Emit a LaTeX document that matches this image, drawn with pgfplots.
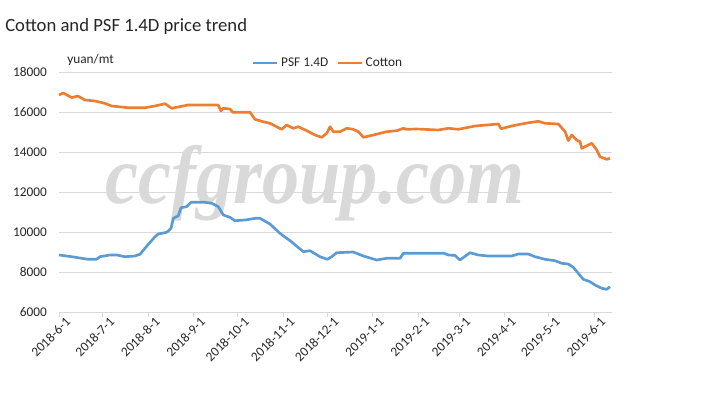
\documentclass[border=0pt]{standalone}
\usepackage{fontspec}
\setmainfont{Carlito}
\newfontfamily\wmfont{Liberation Serif}
\usepackage{pgfplots}
\pgfplotsset{compat=1.18}
\definecolor{psf}{HTML}{5B9BD5}
\definecolor{cot}{HTML}{ED7D31}
\definecolor{gridc}{HTML}{D9D9D9}
\definecolor{wm}{HTML}{D9D9D9}
\definecolor{txt}{HTML}{262626}
\begin{document}
\begin{tikzpicture}
\path[use as bounding box] (-44.25pt,-63.75pt) rectangle (492.75pt,234pt);
\node[anchor=base, font=\wmfont\fontsize{62}{62}\selectfont\bfseries\itshape, text=wm, inner sep=0pt] at (192pt,81.75pt) {\scalebox{0.9}[1]{ccfgroup.com}};
\begin{axis}[
  at={(0,0)}, anchor=south west,
  scale only axis, width=414.75pt, height=180pt,
  xmin=0, xmax=377.2, ymin=6000, ymax=18000,
  ytick={6000,8000,...,18000},
  scaled y ticks=false,
  xtick={0,30,61,92,122,153,183,214,245,273,304,334,365},
  xticklabels={2018-6-1,2018-7-1,2018-8-1,2018-9-1,2018-10-1,2018-11-1,2018-12-1,2019-1-1,2019-2-1,2019-3-1,2019-4-1,2019-5-1,2019-6-1},
  axis x line*=bottom, axis y line*=left,
  x axis line style={gridc, line width=0.75pt, -},
  y axis line style={draw=none},
  ymajorgrids, grid style={gridc, line width=0.75pt},
  ytick style={draw=none},
  xtick style={gridc, line width=0.75pt},
  xtick align=outside, major tick length=3.5pt,
  /pgf/number format/1000 sep={},
  /pgf/number format/assume math mode=true,
  yticklabel style={font=\fontsize{10}{12}\selectfont, text=txt},
  yticklabel shift=5.5pt,
  xticklabel style={font=\fontsize{10}{12}\selectfont, text=txt, rotate=45, anchor=east, xshift=6.5pt, yshift=-6.5pt},
  legend style={at={(0.487,1)}, anchor=center, yshift=6.75pt, draw=none, fill=none, font=\fontsize{10}{12}\selectfont, text=txt, legend columns=2, inner sep=0pt},
  legend image code/.code={\draw[#1] (0pt,0pt) -- (18pt,0pt);},
  legend cell align=left,
  /tikz/every even column/.append style={column sep=4pt},
  clip=false,
]
\addplot[psf, line width=2pt, line join=round] coordinates {
(0,8850)(8.7,8765)(19.9,8635)(25.6,8635)(27.9,8765)(34.8,8850)(39.4,8850)(45,8765)(51.8,8800)(55.2,8885)
(60.9,9385)(65.5,9765)(67.7,9900)(73.5,9985)(76.4,10185)(78,10685)(81.4,10815)(83.2,11215)(87.1,11265)(90,11485)
(99.5,11485)(104.2,11435)(108.7,11265)(112.1,10850)(116.6,10735)(120,10565)(126.9,10600)(134.1,10685)(137.1,10685)
(143.9,10400)(150.7,9935)(157.6,9565)(166.7,9015)(171.2,9065)(178,8765)(183,8635)(186,8765)(189.4,8965)(200.7,9000)
(207.6,8800)(216.7,8600)(223.5,8685)(232.6,8685)(234.9,8935)(262.6,8935)(265.6,8850)(270.1,8830)(273.5,8600)
(280.3,8965)(286,8850)(292.8,8800)(308.8,8800)(313.3,8900)(320.1,8900)(324.7,8765)(331.5,8635)(338.3,8565)
(342.9,8435)(347.4,8400)(350.8,8235)(354.2,7935)(357.6,7635)(362.2,7515)(365.6,7350)(370.2,7185)(373.6,7135)(375.8,7265)
};
\addlegendentry{PSF 1.4D}
\addplot[cot, line width=2pt, line join=round] coordinates {
(0,16850)(2.9,16950)(8.7,16720)(12.8,16800)(17.7,16600)(24.6,16550)(31.4,16430)(35.9,16300)(47.1,16215)(58.7,16215)
(65.5,16300)(72.3,16415)(76.9,16185)(88,16350)(108.5,16350)(110.5,16050)(111.9,16185)(116.6,16150)(118.7,15985)
(130.3,15985)(133.7,15635)(139.2,15515)(143.9,15435)(151.9,15135)(155.3,15350)(159.8,15185)(163.2,15265)(169,15065)
(174.6,14850)(179.2,14735)(182.6,14935)(184.9,15265)(187.1,15015)(191.7,15015)(196.3,15185)(200.7,15135)(204.2,15015)
(207.6,14735)(214.4,14850)(223.5,15015)(230.4,15065)(234.9,15185)(237.2,15135)(244,15150)(258.7,15100)(265.6,15185)
(272.4,15135)(283.8,15300)(299.7,15400)(301.5,15165)(308.8,15300)(317.9,15435)(326.9,15535)(331.5,15435)(340.6,15400)
(345.2,15015)(347.4,14565)(349.7,14850)(353.1,14600)(355.4,14515)(356.6,14185)(358.8,14265)(363.4,14435)(366.8,14100)
(369,13765)(373.6,13635)(375.8,13685)
};
\addlegendentry{Cotton}
\end{axis}
\node[anchor=west, font=\fontsize{10}{12}\selectfont, text=txt, inner sep=0pt] at (6pt,189pt) {yuan/mt};
\node[anchor=base west, font=\fontsize{14}{16}\selectfont, text=txt, inner sep=0pt] at (-40.5pt,210pt) {Cotton and PSF 1.4D price trend};
\end{tikzpicture}
\end{document}
